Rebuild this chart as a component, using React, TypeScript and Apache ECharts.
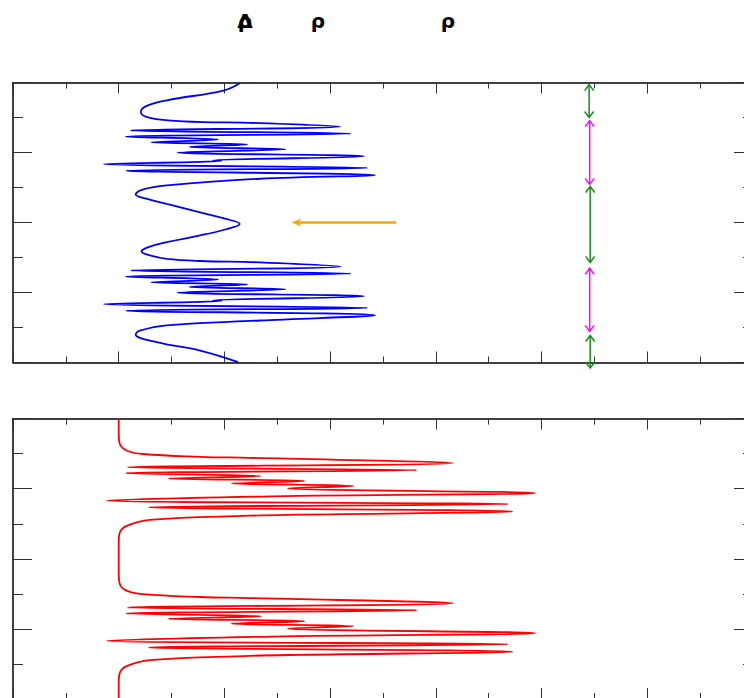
import React, { useEffect, useRef } from "react";
import * as echarts from "echarts";

// Profile of the upper panel: [value, depth] pairs, depth measured downward.
const bluePoints: [number, number][] = [
  [4.29, 0.02], [3.98, 0.23], [2.91, 0.51], [2.5, 0.69], [2.42, 0.85], [2.59, 1.01], [3.22, 1.11], [4.67, 1.16],
  [6.19, 1.26], [2.23, 1.37], [6.39, 1.46], [2.13, 1.55], [3.88, 1.63], [2.61, 1.71], [4.43, 1.77], [3.34, 1.84],
  [5.16, 1.91], [3.11, 2.0], [6.64, 2.11], [3.78, 2.23], [3.94, 2.24], [1.72, 2.33], [6.7, 2.44], [2.14, 2.52],
  [6.85, 2.65],
  [4.67, 2.75], [2.91, 2.94], [2.45, 3.06], [2.32, 3.2], [2.5, 3.31], [2.91, 3.47], [3.54, 3.71], [4.01, 3.89],
  [4.29, 4.04],
  [4.01, 4.2], [3.54, 4.37], [2.91, 4.56], [2.55, 4.71], [2.43, 4.83], [2.59, 4.94], [2.91, 5.04], [3.54, 5.1],
  [4.67, 5.14],
  [6.19, 5.26], [2.23, 5.37], [6.39, 5.46], [2.13, 5.55], [3.88, 5.63], [2.61, 5.71], [4.43, 5.77], [3.34, 5.84],
  [5.16, 5.91], [3.11, 6.0], [6.64, 6.11], [3.78, 6.23], [3.94, 6.24], [1.72, 6.33], [6.7, 6.44], [2.14, 6.52],
  [6.85, 6.65],
  [4.67, 6.8], [2.91, 6.94], [2.4, 7.09], [2.32, 7.2], [2.72, 7.42], [3.54, 7.66], [4.26, 7.99],
];

// Profile of the lower panel.
const redPoints: [number, number][] = [
  [2.0, 0.0], [2.0, 0.43], [2.02, 0.72], [2.15, 0.91], [2.46, 1.01], [3.54, 1.09], [4.48, 1.12],
  [8.32, 1.27], [2.17, 1.39], [7.64, 1.47], [2.14, 1.56], [4.69, 1.64], [2.94, 1.71], [5.52, 1.78], [4.14, 1.85],
  [6.44, 1.92], [5.2, 1.99], [9.88, 2.12], [4.89, 2.22], [1.78, 2.34], [9.36, 2.44], [2.57, 2.53], [9.45, 2.65],
  [5.43, 2.74], [4.48, 2.77], [2.59, 2.89], [2.15, 3.06], [2.02, 3.25], [2.0, 3.49],
  [2.0, 4.43], [2.02, 4.72], [2.15, 4.91], [2.46, 5.01], [3.54, 5.09], [4.48, 5.12],
  [8.32, 5.27], [2.17, 5.39], [7.64, 5.47], [2.14, 5.56], [4.69, 5.64], [2.94, 5.71], [5.52, 5.78], [4.14, 5.85],
  [6.44, 5.92], [5.2, 5.99], [9.88, 6.12], [4.89, 6.22], [1.78, 6.34], [9.36, 6.44], [2.57, 6.53], [9.45, 6.65],
  [5.43, 6.74], [4.48, 6.77], [2.59, 6.89], [2.15, 7.06], [2.02, 7.25], [2.0, 7.49], [2.0, 8.0],
];

// Double-headed span markers: [x, top depth, bottom depth, colour index]
const spanMarkers: [number, number, number, number][] = [
  [10.9, 0.06, 1.0, 0],
  [10.91, 1.09, 2.91, 1],
  [10.92, 2.97, 5.14, 0],
  [10.91, 5.31, 7.11, 1],
  [10.92, 7.23, 8.16, 0],
];
const spanColors = ["#1a8c1a", "#ff00ff"];

// Single arrow: [x start, x tip, depth]
const pointerArrow: [number, number, number][] = [[7.25, 5.27, 4.0]];

const titleGlyphs = [
  { text: "Δ", x: 245 },
  { text: "ρ", x: 245 },
  { text: "ρ", x: 318 },
  { text: "ρ", x: 448 },
];

const xAxisFor = (gridIndex: number, position: string) => ({
  type: "value",
  gridIndex,
  position,
  min: 0,
  max: 14,
  interval: 2,
  axisLine: { show: true, onZero: false, lineStyle: { color: "#000", width: 1.5 } },
  axisTick: { show: true, inside: true, length: 11, lineStyle: { color: "#333", width: 1 } },
  minorTick: { show: true, splitNumber: 2, length: 6, lineStyle: { color: "#333", width: 1 } },
  axisLabel: { show: false },
  splitLine: { show: false },
  minorSplitLine: { show: false },
});

const yAxisFor = (gridIndex: number, position: string) => ({
  type: "value",
  gridIndex,
  position,
  inverse: true,
  min: 0,
  max: 8,
  interval: 2,
  axisLine: { show: true, onZero: false, lineStyle: { color: "#000", width: 1.5 } },
  axisTick: { show: true, inside: true, length: 19, lineStyle: { color: "#333", width: 1 } },
  minorTick: { show: true, splitNumber: 2, length: 10, lineStyle: { color: "#333", width: 1 } },
  axisLabel: { show: false },
  splitLine: { show: false },
  minorSplitLine: { show: false },
});

export default function App() {
  const ref = useRef<HTMLDivElement>(null);

  useEffect(() => {
    if (!ref.current) return;
    const chart = echarts.init(ref.current, null, { renderer: "svg" });

    const option: any = {
      animation: false,
      backgroundColor: "#fff",
      grid: [
        { left: 13, top: 82.5, width: 740, height: 280 },
        { left: 13, top: 418.6, width: 740, height: 280.4 },
      ],
      xAxis: [xAxisFor(0, "bottom"), xAxisFor(0, "top"), xAxisFor(1, "bottom"), xAxisFor(1, "top")],
      yAxis: [yAxisFor(0, "left"), yAxisFor(0, "right"), yAxisFor(1, "left"), yAxisFor(1, "right")],
      graphic: titleGlyphs.map((g) => ({
        type: "text",
        x: g.x,
        y: 21,
        style: {
          text: g.text,
          fill: "#000",
          font: "bold 20px 'DejaVu Sans'",
          align: "center",
          verticalAlign: "middle",
        },
      })),
      series: [
        {
          type: "line",
          xAxisIndex: 0,
          yAxisIndex: 0,
          data: bluePoints,
          showSymbol: false,
          symbol: "none",
          smooth: 0.4,
          lineStyle: { color: "#0000ff", width: 1.8 },
        },
        {
          type: "line",
          xAxisIndex: 2,
          yAxisIndex: 2,
          data: redPoints,
          showSymbol: false,
          symbol: "none",
          smooth: 0.4,
          lineStyle: { color: "#ff0000", width: 1.8 },
        },
        {
          type: "custom",
          xAxisIndex: 0,
          yAxisIndex: 0,
          clip: false,
          data: spanMarkers,
          renderItem: (_params: any, api: any) => {
            const x = api.value(0);
            const a = api.coord([x, api.value(1)]);
            const b = api.coord([x, api.value(2)]);
            const color = spanColors[api.value(3)];
            const w = 4.5;
            const h = 6;
            const style = { stroke: color, lineWidth: 1.5, fill: "none" };
            return {
              type: "group",
              children: [
                { type: "line", shape: { x1: a[0], y1: a[1], x2: b[0], y2: b[1] }, style },
                {
                  type: "polyline",
                  shape: { points: [[a[0] - w, a[1] + h], [a[0], a[1]], [a[0] + w, a[1] + h]] },
                  style,
                },
                {
                  type: "polyline",
                  shape: { points: [[b[0] - w, b[1] - h], [b[0], b[1]], [b[0] + w, b[1] - h]] },
                  style,
                },
              ],
            };
          },
        },
        {
          type: "custom",
          xAxisIndex: 0,
          yAxisIndex: 0,
          clip: false,
          data: pointerArrow,
          renderItem: (_params: any, api: any) => {
            const s = api.coord([api.value(0), api.value(2)]);
            const t = api.coord([api.value(1), api.value(2)]);
            return {
              type: "group",
              children: [
                {
                  type: "line",
                  shape: { x1: s[0], y1: s[1], x2: t[0] + 6, y2: t[1] },
                  style: { stroke: "#ffa500", lineWidth: 2.5 },
                },
                {
                  type: "polygon",
                  shape: {
                    points: [
                      [t[0], t[1]],
                      [t[0] + 10, t[1] - 4],
                      [t[0] + 7, t[1]],
                      [t[0] + 10, t[1] + 4],
                    ],
                  },
                  style: { fill: "#ffa500" },
                },
              ],
            };
          },
        },
      ],
    };

    chart.setOption(option);
    return () => chart.dispose();
  }, []);

  // The plot frame runs past the visible window on the right and bottom,
  // so the chart surface is larger than the clipping box around it.
  return (
    <div
      style={{
        position: "absolute",
        left: 0,
        top: 0,
        width: 744,
        height: 698,
        overflow: "hidden",
        background: "#fff",
      }}
    >
      <div ref={ref} style={{ width: 770, height: 720 }} />
    </div>
  );
}
